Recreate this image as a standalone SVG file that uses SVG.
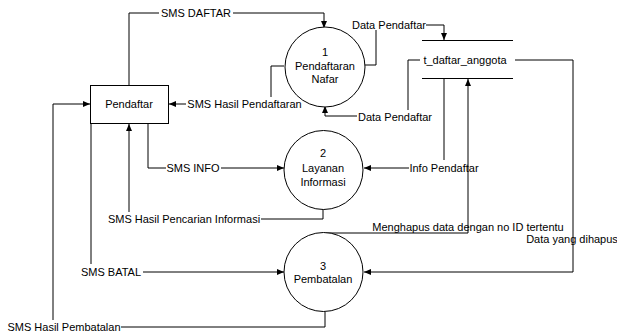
<svg xmlns="http://www.w3.org/2000/svg" width="617" height="334" viewBox="0 0 617 334">
<defs>
<marker id="arr" viewBox="0 0 7 6" refX="7" refY="3" markerWidth="7" markerHeight="6" markerUnits="userSpaceOnUse" orient="auto">
<path d="M0,0 L7,3 L0,6 Z" fill="#000"/>
</marker>
<style>
.ln{fill:none;stroke:#000;stroke-width:1}
.a{marker-end:url(#arr)}
.sh{fill:#fff;stroke:#000;stroke-width:1}
text{font-family:"Liberation Sans",Arial,sans-serif;font-size:11px;fill:#000;text-anchor:middle}
</style>
</defs>
<rect width="617" height="334" fill="#fff"/>
<g id="connectors">
<path class="ln" d="M129,85 V13 H159"/>
<path class="ln a" d="M233,13 H324 V28"/>
<text x="196" y="17">SMS DAFTAR</text>
<path class="ln" d="M284,66 H271 V97"/>
<path class="ln a" d="M186,104 H169"/>
<text x="244.5" y="108">SMS Hasil Pendaftaran</text>
<path class="ln" d="M365,65 H376 V30"/>
<path class="ln a" d="M426,25 H444 V40"/>
<text x="389" y="29">Data Pendaftar</text>
<path class="ln" d="M420,60 H408 V110"/>
<path class="ln a" d="M357,116 H325 V106"/>
<text x="395" y="121">Data Pendaftar</text>
<path class="ln" d="M515,60 H573 V272"/>
<path class="ln a" d="M573,272 H364"/>
<text x="572" y="243">Data yang dihapus</text>
<path class="ln" d="M444,78 V160"/>
<path class="ln a" d="M409,168 H364"/>
<text x="444" y="172">Info Pendaftar</text>
<path class="ln a" d="M326,233 H468 V79"/>
<text x="468" y="231">Menghapus data dengan no ID tertentu</text>
<path class="ln" d="M148,123 V168 H166"/>
<path class="ln a" d="M221,168 H284"/>
<text x="193" y="172">SMS INFO</text>
<path class="ln" d="M323,209 V219 H261"/>
<path class="ln a" d="M129,212 V124"/>
<text x="184" y="223">SMS Hasil Pencarian Informasi</text>
<path class="ln" d="M91,123 V264"/>
<path class="ln a" d="M143,272 H284"/>
<text x="111" y="276">SMS BATAL</text>
<path class="ln" d="M325,312 V327 H121"/>
<path class="ln a" d="M53,320 V104 H90"/>
<text x="64" y="331">SMS Hasil Pembatalan</text>
</g>
<g id="pendaftar">
<rect class="sh" x="90.5" y="85.5" width="78" height="38"/>
<text x="129" y="108">Pendaftar</text>
</g>
<g id="p1">
<circle class="sh" cx="325" cy="67" r="40"/>
<text x="325" y="56">1</text>
<text x="325" y="70">Pendaftaran</text>
<text x="325" y="83">Nafar</text>
</g>
<g id="p2">
<circle class="sh" cx="323.5" cy="170" r="39.5"/>
<text x="323" y="157">2</text>
<text x="323" y="172">Layanan</text>
<text x="323" y="186">Informasi</text>
</g>
<g id="p3">
<circle class="sh" cx="323.5" cy="272" r="39.5"/>
<text x="323" y="270">3</text>
<text x="323" y="283">Pembatalan</text>
</g>
<g id="store">
<path class="ln" d="M422,40.5 H513 M422,78.5 H513"/>
<text x="465" y="64">t_daftar_anggota</text>
</g>
</svg>
